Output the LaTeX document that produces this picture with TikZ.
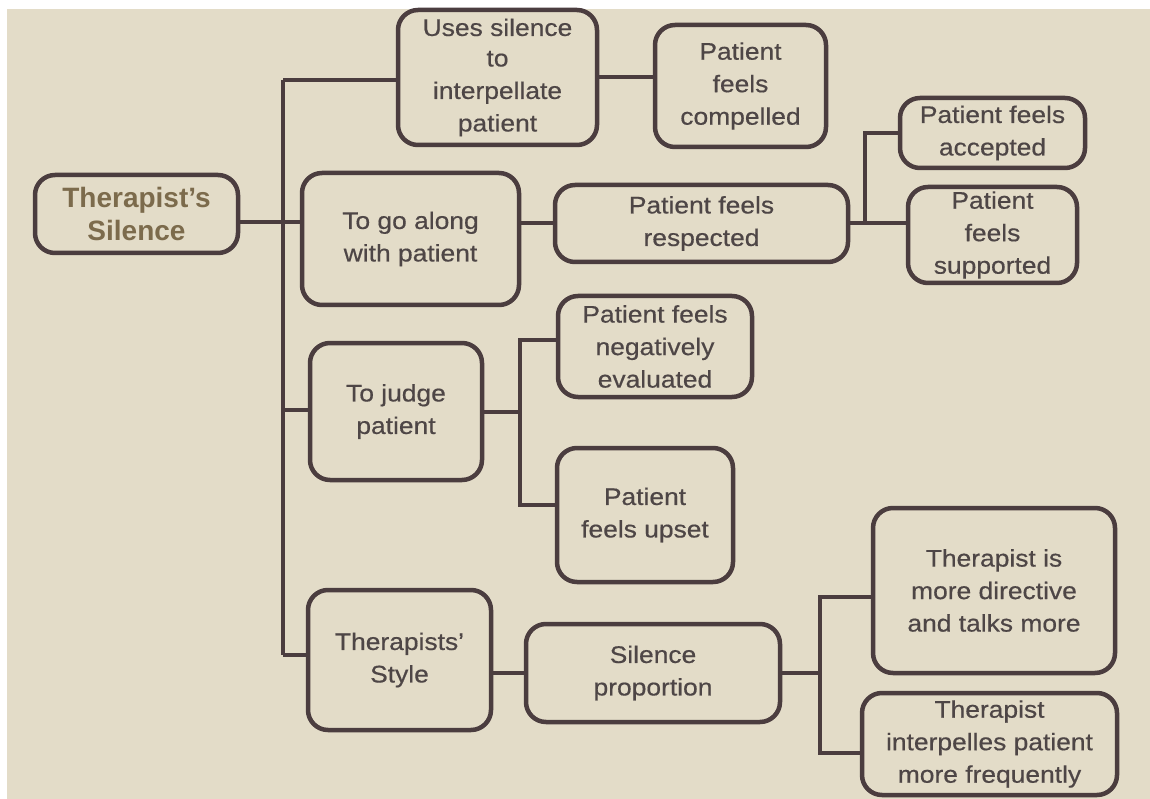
\documentclass[tikz,border=0pt]{standalone}
\usepackage{fontspec}
\newfontfamily\boxfont{Liberation Sans}[FakeStretch=1.1, FakeBold=0.5]
\newfontfamily\titlefont{Liberation Sans}
\definecolor{paper}{HTML}{E3DCC8}
\definecolor{edge}{HTML}{4B3D3F}
\definecolor{ink}{HTML}{4E4646}
\definecolor{titleink}{HTML}{7C6B4C}
\begin{document}
\begin{tikzpicture}[x=1pt,y=-1pt,
  box/.style={draw=edge, line width=4.5pt, rounded corners=20pt, align=center,
    inner sep=0pt, text=ink, font=\boxfont\fontsize{24}{32.5}\selectfont},
  title/.style={box, text=titleink, font=\titlefont\bfseries\fontsize{28}{33}\selectfont},
  link/.style={draw=edge, line width=4pt}]
\useasboundingbox (0,0) rectangle (1150,799);
\fill[white] (0,0) rectangle (1150,799);
\fill[paper] (7,9) rectangle (1150,799);

% nodes
\node[title, minimum width=203, minimum height=78] (root) at (136.5,214) {Therapist’s\\Silence};
\node[box, minimum width=199, minimum height=135] (uses) at (497.5,77.5) {\raisebox{-2pt}{Uses silence}\\to\\interpellate\\patient};
\node[box, minimum width=171, minimum height=122] (compelled) at (740.5,86) {Patient\\feels\\compelled};
\node[box, minimum width=217, minimum height=132] (along) at (410.5,239) {To go along\\with patient};
\node[box, minimum width=293, minimum height=77] (respected) at (701.5,223.5) {Patient feels\\respected};
\node[box, minimum width=185, minimum height=70] (accepted) at (992.5,133) {Patient feels\\accepted};
\node[box, minimum width=169, minimum height=96] (supported) at (992.5,235) {Patient\\feels\\supported};
\node[box, minimum width=172, minimum height=137] (judge) at (396,411.5) {To judge\\patient};
\node[box, minimum width=194, minimum height=101] (negative) at (655,346.5) {Patient feels\\negatively\\evaluated};
\node[box, minimum width=176, minimum height=134] (upset) at (645,515) {Patient\\feels upset};
\node[box, minimum width=183, minimum height=140] (style) at (399.5,660) {Therapists’\\Style};
\node[box, minimum width=254, minimum height=98] (proportion) at (653,673) {Silence\\proportion};
\node[box, minimum width=242, minimum height=165] (directive) at (994,590.5) {Therapist is\\more directive\\and talks more};
\node[box, minimum width=255, minimum height=102] (interpelles) at (989.5,744) {Therapist\\interpelles patient\\more frequently};

% junction points
\coordinate (tTop) at (283,80);
\coordinate (tMid) at (283,222);
\coordinate (tJudge) at (283,410);
\coordinate (tBot) at (283,655);
\coordinate (bA) at (865,133);
\coordinate (bB) at (520,340);
\coordinate (bC) at (520,505);
\coordinate (bD) at (820,597);
\coordinate (bE) at (820,753);

% connectors
\draw[link] (tTop) -- (tBot);
\draw[link] (tTop) -- (uses.west |- tTop);
\draw[link] (root.east |- tMid) -- (along.west |- tMid);
\draw[link] (tJudge) -- (judge.west |- tJudge);
\draw[link] (tBot) -- (style.west |- tBot);
\draw[link] (uses.east) -- (uses.east -| compelled.west);
\draw[link] (respected.west) -- (respected.west -| along.east);
\draw[link] (respected.east) -- (respected.east -| supported.west);
\draw[link] (bA |- respected.east) -- (bA) -- (accepted.west |- bA);
\draw[link] (judge.east) -- (judge.east -| bB);
\draw[link] (negative.west |- bB) -- (bB) -- (bC) -- (upset.west |- bC);
\draw[link] (proportion.west) -- (proportion.west -| style.east);
\draw[link] (proportion.east) -- (proportion.east -| bD);
\draw[link] (directive.west |- bD) -- (bD) -- (bE) -- (interpelles.west |- bE);
\end{tikzpicture}
\end{document}
